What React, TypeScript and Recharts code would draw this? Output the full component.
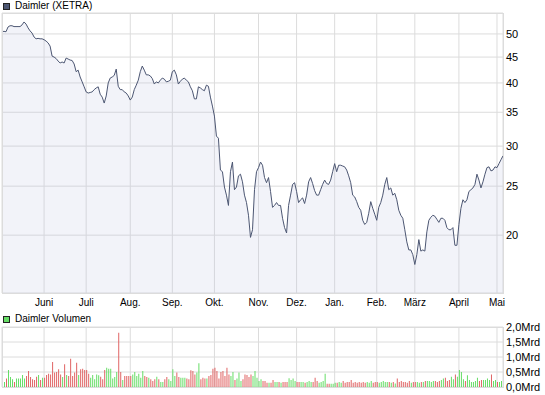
import React from 'react';
import { ComposedChart, Area, XAxis, YAxis, CartesianGrid, BarChart, Bar, Cell } from 'recharts';

const priceTitle = 'Daimler (XETRA)';
const volumeTitle = 'Daimler Volumen';
const monthLabels = ['Juni', 'Juli', 'Aug.', 'Sep.', 'Okt.', 'Nov.', 'Dez.', 'Jan.', 'Feb.', 'März', 'April', 'Mai'];
const monthStartIdx = [21, 42, 64, 85, 106, 128, 147, 166, 187, 206, 228, 247];
const priceTicks = [20, 25, 30, 35, 40, 45, 50];
const priceDomain = [15.37, 55];
const volumeTicks = [0, 0.5, 1, 1.5, 2];

const closePrices = [
  50.5, 50.6, 50.5, 51.6, 51.9, 51.9, 51.7, 51.7, 51.7, 51.7,
  52.1, 52.8, 52.3, 51.4, 50.7, 50.2, 49.3, 48.9, 49.0, 48.9,
  48.9, 48.7, 48.4, 48.0, 47.3, 45.2, 45.0, 44.7, 44.2, 43.8,
  44.0, 43.8, 44.8, 44.6, 44.4, 44.3, 43.6, 42.1, 42.4, 41.1,
  40.2, 39.3, 38.4, 38.2, 38.3, 38.4, 38.8, 39.1, 39.3, 38.0,
  37.5, 36.5, 37.7, 40.0, 40.9, 41.1, 41.4, 42.6, 39.4, 38.8,
  38.8, 38.4, 38.2, 37.7, 37.0,
  37.5, 38.8, 39.6, 40.5, 42.1, 43.2, 42.4, 41.5, 41.5, 41.3,
  40.8, 39.8, 40.2, 40.0, 40.5, 40.9, 40.7, 40.2, 40.3, 40.5,
  42.1, 42.4, 41.5, 39.8, 40.3, 40.7, 40.9, 40.5, 40.2, 39.3,
  38.6, 37.2, 37.2, 39.3, 39.1, 38.8, 38.6, 39.6, 39.4, 37.5,
  36.0, 34.4, 31.4, 31.1, 26.9, 26.7, 24.9, 24.0, 22.9, 26.7,
  27.9, 24.6, 24.9, 26.2, 26.4, 25.5, 24.0, 23.2, 21.9, 19.8,
  20.5, 24.6, 26.7, 27.2, 27.9,
  27.5, 26.0, 25.4, 26.0, 24.4, 22.7, 22.9, 23.2, 22.9, 22.9,
  21.6, 20.7, 20.2, 22.9, 24.0, 25.2, 25.4, 24.4, 23.2, 23.5,
  23.7, 23.1, 24.0, 25.5, 26.0, 25.3, 24.5, 24.0, 24.0, 24.6,
  25.2, 25.7, 25.3, 25.2, 25.7, 26.7, 27.7, 26.7, 27.5, 27.5,
  27.4, 27.3, 26.9, 26.2, 25.4, 24.0, 23.8, 23.3, 22.7, 22.4,
  21.4, 21.0, 21.2, 22.1, 23.3, 22.6, 22.0, 21.4, 22.7, 23.2,
  24.0, 25.2, 26.0, 24.6, 24.8, 24.0, 24.2, 23.5, 22.4, 21.9,
  21.6, 20.5, 19.4, 18.7, 18.7, 18.3, 17.5, 18.3, 19.6, 18.6,
  18.7, 18.6, 20.3, 21.4, 21.7, 21.9, 21.8, 21.5, 21.2, 21.6,
  21.6, 21.4, 20.7, 20.5, 20.5, 20.7, 19.1, 19.1, 21.0, 22.6,
  23.5, 23.2, 23.5, 24.4, 24.6, 24.8, 25.2, 26.4, 25.7, 24.8,
  25.5, 26.4, 27.2, 27.3, 26.8, 26.9, 27.3, 27.2, 27.7, 28.2,
  28.7,
];

const volumesMrd = [
  0.42, 0.17, 0.28, 0.57, 0.33, 0.26, 0.17, 0.28, 0.28, 0.28,
  0.40, 0.28, 0.37, 0.53, 0.33, 0.26, 0.23, 0.34, 0.40, 0.23,
  0.31, 0.31, 0.40, 0.44, 0.42, 0.83, 0.48, 0.50, 0.59, 0.42,
  0.33, 0.76, 0.40, 0.37, 0.94, 0.37, 0.48, 0.81, 0.40, 0.59,
  0.61, 0.57, 0.57, 0.44, 0.31, 0.40, 0.26, 0.42, 0.39, 0.34,
  0.26, 0.57, 0.64, 0.61, 0.61, 0.28, 0.33, 0.50, 1.81, 0.50,
  0.23, 0.37, 0.37, 0.37, 0.37, 0.42, 0.50, 0.37, 0.44, 0.31,
  0.53, 0.37, 0.33, 0.31, 0.26, 0.20, 0.26, 0.34, 0.26, 0.17,
  0.17, 0.26, 0.33, 0.26, 0.20, 0.59, 0.37, 0.48, 0.33, 0.31,
  0.31, 0.31, 0.28, 0.26, 0.56, 0.53, 0.42, 0.48, 0.79, 0.26,
  0.31, 0.28, 0.28, 0.37, 0.40, 0.61, 0.64, 0.53, 0.28, 0.50,
  0.53, 0.37, 0.64, 0.42, 0.37, 0.50, 0.23, 0.28, 0.48, 0.20,
  0.26, 0.42, 0.40, 0.33, 0.42, 0.37, 0.53, 0.31, 0.20, 0.26,
  0.20, 0.20, 0.14, 0.14,
  0.14, 0.23, 0.17, 0.17, 0.17, 0.14, 0.17, 0.17, 0.17, 0.29,
  0.23, 0.28, 0.20, 0.17, 0.17, 0.17, 0.17, 0.14, 0.17, 0.20,
  0.17, 0.17, 0.31, 0.20, 0.14, 0.17, 0.20, 0.44, 0.11, 0.11,
  0.11, 0.11, 0.14, 0.14, 0.17, 0.14, 0.20, 0.14, 0.17, 0.17,
  0.23, 0.14, 0.17, 0.14, 0.17, 0.14, 0.17, 0.14, 0.17, 0.14,
  0.20, 0.14, 0.17, 0.17, 0.14, 0.17, 0.20, 0.17, 0.17, 0.17,
  0.14, 0.17, 0.12, 0.28, 0.17, 0.20, 0.17, 0.17, 0.14, 0.20,
  0.14, 0.17, 0.17, 0.17, 0.14, 0.17, 0.17, 0.20, 0.20, 0.20,
  0.17, 0.20, 0.20, 0.17, 0.20, 0.23, 0.28, 0.31, 0.20, 0.23,
  0.34, 0.26, 0.42, 0.34, 0.57, 0.50, 0.26, 0.20, 0.39, 0.23,
  0.17, 0.17, 0.20, 0.31, 0.20, 0.23, 0.23, 0.23, 0.28, 0.23,
  0.42, 0.20, 0.23, 0.17, 0.17, 0.20, 0.11,
];

const rows = closePrices.map((p, i) => ({
  i,
  price: p,
  volume: volumesMrd[i],
  up: i === 0 ? true : p >= closePrices[i - 1],
}));

const FONT = '"Liberation Sans", Arial, sans-serif';
const GRID = '#dcdcdc';
const LINE = '#4c5672';
const UP = '#66dd66';
const DOWN = '#e06464';

const monthFmt = (v: number) => {
  const k = monthStartIdx.indexOf(v);
  return k >= 0 ? monthLabels[k] : '';
};
const volFmt = (v: number) => v.toFixed(1).replace('.', ',') + 'Mrd';

export default function App() {
  return (
    <div style={{ position: 'absolute', left: 0, top: 0, width: 545, height: 395, background: '#fff', fontFamily: FONT }}>
      <div style={{ position: 'absolute', left: 3, top: 3, width: 7, height: 7, boxSizing: 'border-box', border: '1px solid #222', background: LINE }} />
      <div style={{ position: 'absolute', left: 15, top: 0, fontSize: 10, lineHeight: '12px', color: '#000' }}>{priceTitle}</div>

      <div style={{ position: 'absolute', left: 0, top: 0 }}>
        <ComposedChart width={545} height={310} data={rows} margin={{ top: 13, right: 0, bottom: 0, left: 2 }}>
          <CartesianGrid stroke={GRID} strokeWidth={1} />
          <XAxis
            dataKey="i"
            type="number"
            domain={[0, 250]}
            ticks={monthStartIdx}
            interval={0}
            tickFormatter={monthFmt}
            height={17}
            tickSize={0}
            tickMargin={6}
            axisLine={false}
            tickLine={false}
            tick={{ fontSize: 10, fill: '#000', fontFamily: FONT }}
          />
          <YAxis
            orientation="right"
            scale="log"
            domain={priceDomain}
            allowDataOverflow
            ticks={priceTicks}
            interval={0}
            width={42}
            tickSize={0}
            tickMargin={3}
            axisLine={false}
            tickLine={false}
            tick={{ fontSize: 11, fill: '#000', fontFamily: FONT }}
          />
          <Area
            type="linear"
            dataKey="price"
            stroke={LINE}
            strokeWidth={1}
            fill="#bec3e1"
            fillOpacity={0.2}
            baseValue={priceDomain[0]}
            dot={false}
            activeDot={false}
            isAnimationActive={false}
          />
        </ComposedChart>
      </div>
      <div style={{ position: 'absolute', left: 2, top: 13, width: 502, height: 281, boxSizing: 'border-box', border: `1px solid ${GRID}`, pointerEvents: 'none' }} />

      <div style={{ position: 'absolute', left: 3, top: 316, width: 7, height: 7, boxSizing: 'border-box', border: '1px solid #222', background: UP }} />
      <div style={{ position: 'absolute', left: 15, top: 313, fontSize: 10, lineHeight: '12px', color: '#000' }}>{volumeTitle}</div>

      <div style={{ position: 'absolute', left: 0, top: 310 }}>
        <BarChart width={545} height={85} data={rows} margin={{ top: 17, right: 0, bottom: 8, left: 2 }} barCategoryGap={0}>
          <CartesianGrid stroke={GRID} strokeWidth={1} />
          <XAxis dataKey="i" type="number" domain={[0, 250]} ticks={monthStartIdx} interval={0} hide />
          <YAxis
            orientation="right"
            domain={[0, 2]}
            ticks={volumeTicks}
            interval={0}
            tickFormatter={volFmt}
            width={42}
            tickSize={0}
            tickMargin={3}
            axisLine={false}
            tickLine={false}
            tick={{ fontSize: 11, fill: '#000', fontFamily: FONT }}
          />
          <Bar dataKey="volume" barSize={1} isAnimationActive={false}>
            {rows.map((r) => (
              <Cell key={r.i} fill={r.up ? UP : DOWN} />
            ))}
          </Bar>
        </BarChart>
      </div>
      <div style={{ position: 'absolute', left: 2, top: 327, width: 502, height: 61, boxSizing: 'border-box', border: `1px solid ${GRID}`, pointerEvents: 'none' }} />
    </div>
  );
}
